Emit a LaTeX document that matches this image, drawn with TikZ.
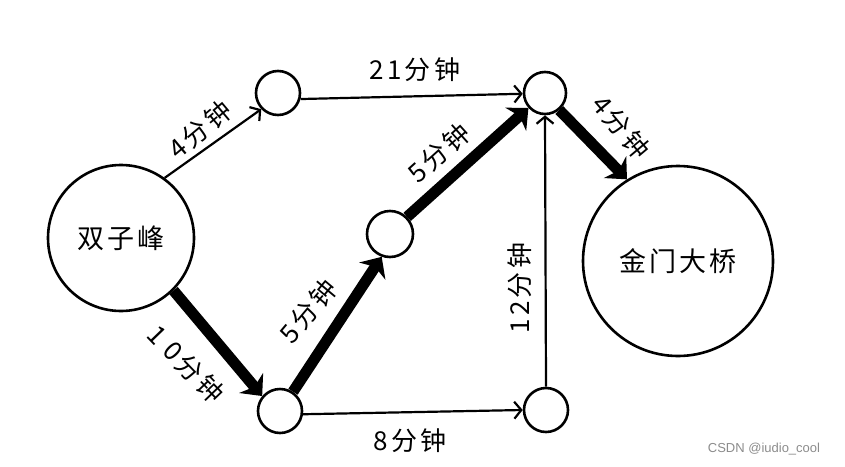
\documentclass[tikz,border=0pt]{standalone}
\usepackage{fontspec}
\setmainfont{Liberation Sans}
\newfontfamily\cjk{Noto Sans CJK SC}
\usetikzlibrary{arrows.meta}
\tikzset{
  bignode/.style={circle, draw, line width=2.6pt, inner sep=0pt, font=\cjk\fontsize{27}{27}\selectfont\addfontfeature{LetterSpace=12}},
  smallnode/.style={circle, draw, line width=2.6pt, inner sep=0pt, minimum size=44pt},
  thinedge/.style={line width=2.2pt, -{Straight Barb[length=7pt,width=17pt,line width=2.2pt]}},
  thickedge/.style={line width=11pt, -{Stealth[length=17pt,width=31pt,inset=5pt]}},
  lbl/.style={font=\cjk\fontsize{26}{26}\selectfont\addfontfeature{LetterSpace=12}, inner sep=0pt},
}
\begin{document}
\begin{tikzpicture}[x=1pt,y=-1pt]
\fill[white] (0,0) rectangle (845,466);
\useasboundingbox (0,0) rectangle (845,466);

\node[bignode, minimum size=146pt] (twin) at (121,238) {双子峰};
\node[bignode, minimum size=190pt] (gate) at (678,261) {金门大桥};
\node[smallnode] (a) at (278,93) {};
\node[smallnode, minimum size=42pt] (c) at (545,93) {};
\node[smallnode, minimum size=46pt] (m) at (390,234) {};
\node[smallnode] (b) at (280,411) {};
\node[smallnode] (d) at (546,410) {};

\draw[thinedge] (twin.54) -- (a.224);
\draw[thinedge] (a.-15) -- (c.182);
\draw[thickedge] (twin.-45) -- (b.140);
\draw[thickedge] (b.56) -- (m.250);
\draw[thickedge] (m.45) -- (c.222);
\draw[thinedge] (b.-8) -- (d.180);
\draw[thinedge] (d.north) -- (c.south);
\draw[thickedge] (c.-50) -- (gate.122);

\node[lbl, rotate=40] (l1) at (200,130) {4分钟};
\node[lbl] (l2) at (415,70) {21分钟};
\node[lbl, rotate=-46] (l3) at (186,364) {1\hspace{8pt}0\hspace{4pt}分钟};
\node[lbl, rotate=50] (l4) at (308,311) {5分钟};
\node[lbl, rotate=42] (l5) at (439,153) {5分钟};
\node[lbl] (l6) at (410,441) {8分钟};
\node[lbl, rotate=90] (l7) at (520,288) {12分钟};
\node[lbl, rotate=-50] (l8) at (621,127) {4分钟};

\node[font=\fontsize{13}{13}\selectfont, text=black!45, inner sep=0pt] (wm) at (764,449) {CSDN @iudio\_cool};
\end{tikzpicture}
\end{document}
